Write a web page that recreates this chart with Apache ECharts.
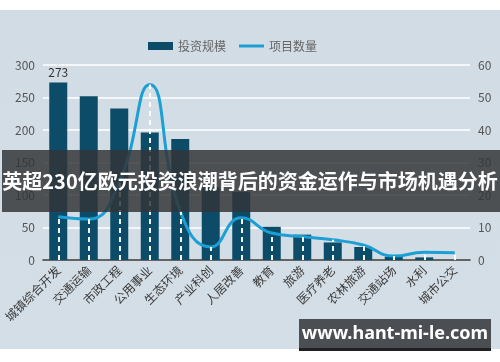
<!DOCTYPE html>
<html>
<head>
<meta charset="utf-8">
<script src="https://cdn.jsdelivr.net/npm/echarts@6/dist/echarts.min.js"></script>
<style>
html,body{margin:0;padding:0;background:#fff;}
#c{width:500px;height:362px;background:linear-gradient(to bottom,#ffffff 0px,#ffffff 10px,#d2dce4 10px,#d4dee6 349px,#ffffff 349px);}
</style>
</head>
<body>
<div id="c"></div>
<script>
var categories = ['城镇综合开发','交通运输','市政工程','公用事业','生态环境','产业科创','人居改善','教育','旅游','医疗养老','农林旅游','交通站场','水利','城市公交'];
var investment = [273, 252, 233, 196, 186, 112, 105, 51, 39, 27, 20, 5, 4, 0];
var projects = [13.3, 12.6, 24, 54, 15, 4, 13, 8.3, 7.2, 6.2, 4.6, 1.2, 2.4, 2.2];
var leftTicks = [0, 50, 100, 150, 200, 250, 300];
var rightTicks = [0, 10, 20, 30, 40, 50, 60];
var titleText = '英超230亿欧元投资浪潮背后的资金运作与市场机遇分析';
var siteText = 'www.hant-mi-le.com';

var maxInv = Math.max.apply(null, investment);
var maxProj = Math.max.apply(null, projects);

var chart = echarts.init(document.getElementById('c'), null, {renderer: 'canvas'});
var font = '"Noto Sans CJK SC","Noto Sans",sans-serif';

var dropLines = projects.map(function (v, i) {
  return [{coord: [i, 0]}, {coord: [i, v]}];
});

chart.setOption({
  animation: false,
  backgroundColor: 'transparent',
  textStyle: {fontFamily: font},
  legend: {
    left: 143, top: 35,
    itemWidth: 25, itemHeight: 8, itemGap: 13,
    textStyle: {color: '#666', fontSize: 12, fontFamily: font},
    data: [{name: '投资规模', icon: 'rect'}, {name: '项目数量', icon: 'path://M0,0H100V12H0Z'}]
  },
  grid: {left: 43, right: 30, top: 65, bottom: 102},
  xAxis: {
    type: 'category',
    data: categories,
    axisLine: {show: true, lineStyle: {color: '#333', width: 1.5}},
    axisTick: {show: false},
    axisLabel: {rotate: 45, color: '#3a3a3a', fontSize: 12, margin: 8, interval: 0, fontFamily: font}
  },
  yAxis: [{
    type: 'value', min: leftTicks[0], max: leftTicks[leftTicks.length - 1], interval: 50,
    axisLine: {show: false}, axisTick: {show: false},
    axisLabel: {color: '#555', fontSize: 12, margin: 8},
    splitLine: {lineStyle: {color: '#ffffff', width: 1.5}}
  }, {
    type: 'value', min: rightTicks[0], max: rightTicks[rightTicks.length - 1], interval: 10,
    axisLine: {show: false}, axisTick: {show: false},
    axisLabel: {color: '#555', fontSize: 12, margin: 8},
    splitLine: {show: false}
  }],
  series: [{
    name: '投资规模',
    type: 'bar',
    barWidth: 18,
    itemStyle: {color: '#0c4c68'},
    data: investment.map(function (v) {
      return {value: v, label: {show: v === maxInv}};
    }),
    label: {position: 'top', color: '#333', fontSize: 12, distance: 4}
  }, {
    name: '项目数量',
    type: 'line',
    yAxisIndex: 1,
    smooth: 0.5,
    symbol: 'none',
    lineStyle: {color: '#1c9fd4', width: 3},
    itemStyle: {color: '#1c9fd4'},
    data: projects.map(function (v) {
      return {value: v, label: {show: v === maxProj}};
    }),
    label: {position: 'top', color: '#333', fontSize: 12, distance: 6},
    markLine: {
      silent: true,
      symbol: 'none',
      label: {show: false},
      lineStyle: {color: '#ffffff', type: [5, 4], width: 2, opacity: 0.95},
      data: dropLines
    },
    z: 3
  }],
  graphic: {elements: [{
    type: 'rect', z: 100,
    shape: {x: 2, y: 150, width: 498, height: 62},
    style: {fill: 'rgba(50,52,55,0.84)'}
  }, {
    type: 'text', z: 101,
    x: 250, y: 181,
    style: {text: titleText, fill: '#ffffff', font: 'bold 20px "Noto Sans CJK SC", sans-serif', align: 'center', verticalAlign: 'middle'}
  }, {
    type: 'rect', z: 100,
    shape: {x: 299, y: 319, width: 192, height: 31},
    style: {fill: '#4b4f53'}
  }, {
    type: 'rect', z: 100,
    shape: {x: 299, y: 348, width: 192, height: 3},
    style: {fill: '#1e2022'}
  }, {
    type: 'text', z: 101,
    x: 395, y: 334,
    style: {text: siteText, fill: '#ffffff', font: 'bold 18px "Noto Sans", sans-serif', align: 'center', verticalAlign: 'middle'}
  }]}
});
</script>
</body>
</html>
